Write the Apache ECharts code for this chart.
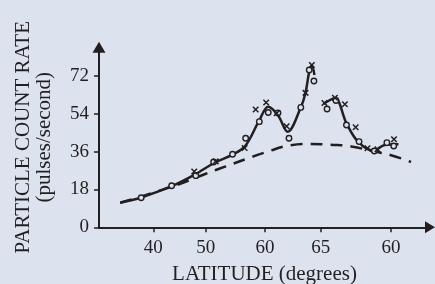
<!DOCTYPE html>
<html>
<head>
<meta charset="utf-8">
<script src="https://cdn.jsdelivr.net/npm/echarts@6/dist/echarts.min.js"></script>
<style>
  html, body { margin: 0; padding: 0; background: #dce3ee; }
  #main { width: 435px; height: 284px; }
</style>
</head>
<body>
<div id="main"></div>
<script>
// x is a position along the flight track, tick labels give the latitude there
const tickPos = [40, 50, 61.3, 71.9, 85.3];
const tickLabels = ["40", "50", "60", "65", "60"];
const yTicks = [0, 18, 36, 54, 72];

// smooth fitted curve, two pieces
const solidA = [
  [33.7, 11.7], [37.7, 14.2], [43.6, 19.7], [47.9, 25.1], [51.8, 30.9],
  [55.2, 34.7], [57.5, 38.7], [60.1, 50.4], [61.9, 57.4], [63.75, 53.4],
  [65.6, 45.5], [68.1, 57.1], [69.0, 64.1], [69.7, 74.0], [70.2, 77.0],
  [70.7, 72.5]
];
const solidB = [
  [72.4, 58.7], [74.6, 61.4], [76.8, 49.5], [79.0, 40.8], [81.9, 36.5],
  [84.1, 39.2], [86.7, 39.5]
];

// dashed background curve
const dashed = [
  [33.7, 11.7], [43.6, 19.4], [50.0, 25.5], [53.8, 29.0], [57.75, 32.6],
  [61.75, 36.0], [65.6, 38.8], [69.6, 39.7], [73.7, 39.3], [77.7, 38.5],
  [81.7, 36.3], [85.6, 34.1], [89.1, 31.1]
];

// measured points: circles and crosses
const circles = [
  [37.7, 14.1], [43.5, 19.8], [48.1, 24.6], [51.5, 31.1], [55.1, 34.8],
  [57.6, 42.4], [60.2, 50.3], [61.9, 54.7], [63.75, 54.4], [65.85, 42.4],
  [68.1, 57.1], [69.7, 74.9], [70.6, 69.7], [73.1, 56.3], [74.8, 60.4],
  [76.8, 48.7], [79.2, 40.8], [82.1, 36.3], [84.5, 40.3], [85.8, 38.7]
];
const crosses = [
  [47.8, 26.6], [51.9, 31.4], [57.4, 37.8], [59.5, 56.1], [61.5, 59.4],
  [63.5, 54.3], [65.4, 48.1], [69.0, 64.0], [70.2, 77.3], [72.6, 59.2],
  [74.6, 61.7], [76.5, 58.6], [78.55, 47.6], [80.8, 37.6], [82.7, 37.1],
  [85.85, 41.9]
];

const ink = "#231f20";
const bg = "#dce3ee";
const font = "Liberation Serif";

var myChart = echarts.init(document.getElementById("main"));

var option = {
  backgroundColor: bg,
  animation: false,
  grid: {
    left: 99,
    right: 5,
    top: 47.2,
    bottom: 56.7,
    containLabel: false,
    outerBoundsMode: "none",
  },
  xAxis: {
    type: "value",
    min: 29.66,
    max: 92.71,
    name: "LATITUDE (degrees)",
    nameLocation: "middle",
    nameGap: 37,
    nameTextStyle: { fontFamily: font, fontSize: 21, color: ink },
    axisLine: {
      show: true,
      onZero: false,
      symbol: ["none", "triangle"],
      symbolSize: [12, 10],
      lineStyle: { color: ink, width: 2 },
    },
    axisTick: {
      show: true,
      customValues: tickPos,
      length: 5,
      lineStyle: { color: ink, width: 1.5 },
    },
    axisLabel: {
      customValues: tickPos,
      formatter: (v) => tickLabels[tickPos.indexOf(v)],
      margin: 11,
      fontFamily: font,
      fontSize: 19,
      color: ink,
    },
    splitLine: { show: false },
  },
  yAxis: {
    type: "value",
    min: 0,
    max: 85.76,
    name: "PARTICLE COUNT RATE\n(pulses/second)",
    nameLocation: "middle",
    nameRotate: 90,
    nameGap: 44,
    nameTextStyle: { fontFamily: font, fontSize: 21, lineHeight: 21, color: ink },
    axisLine: {
      show: true,
      onZero: false,
      symbol: ["none", "triangle"],
      symbolSize: [13, 11],
      lineStyle: { color: ink, width: 2 },
    },
    axisTick: {
      show: true,
      customValues: yTicks,
      length: 5,
      lineStyle: { color: ink, width: 1.5 },
    },
    axisLabel: {
      customValues: yTicks,
      margin: 10,
      fontFamily: font,
      fontSize: 19,
      color: ink,
    },
    splitLine: { show: false },
  },
  series: [
    {
      type: "line",
      data: dashed,
      smooth: 0.5,
      showSymbol: false,
      lineStyle: { color: ink, width: 2.5, type: [12, 8] },
    },
    {
      type: "line",
      data: solidA,
      smooth: 0.35,
      showSymbol: false,
      lineStyle: { color: ink, width: 2.5 },
    },
    {
      type: "line",
      data: solidB,
      smooth: 0.35,
      showSymbol: false,
      lineStyle: { color: ink, width: 2.5 },
    },
    {
      type: "scatter",
      data: circles,
      symbol: "circle",
      symbolSize: 5.5,
      itemStyle: { color: bg, borderColor: ink, borderWidth: 1.4, opacity: 1 },
      z: 5,
    },
    {
      type: "scatter",
      data: crosses,
      symbol: "path://M0,0L10,10M0,10L10,0",
      symbolSize: 5.5,
      itemStyle: { color: "transparent", borderColor: ink, borderWidth: 1.5, opacity: 1 },
      z: 6,
    },
  ],
};

option && myChart.setOption(option);
</script>
</body>
</html>
